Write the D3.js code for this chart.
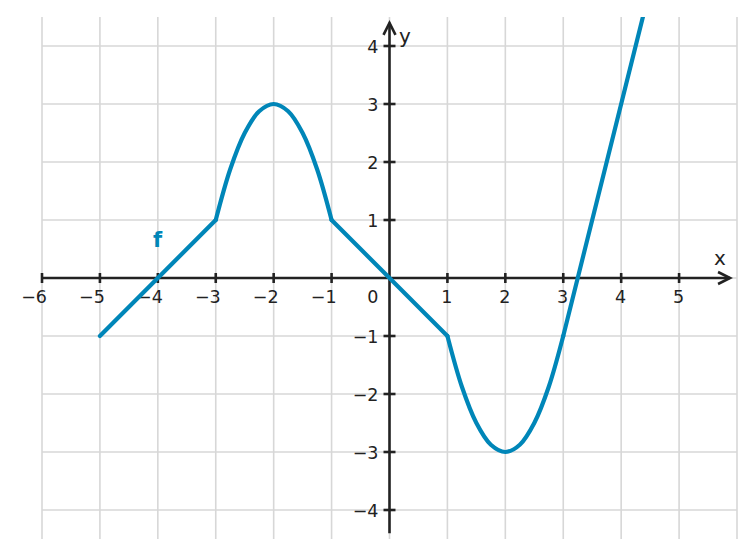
<!DOCTYPE html>
<html>
<head>
<meta charset="utf-8">
<script src="https://cdn.jsdelivr.net/npm/d3@7"></script>
<style>
  html, body { margin: 0; padding: 0; background: #fff; }
  svg { display: block; }
  text { font-family: "DejaVu Sans", sans-serif; }
</style>
</head>
<body>
<svg id="chart" width="755" height="557"></svg>
<script>
// ---- data ----
const xTicks = [-6, -5, -4, -3, -2, -1, 1, 2, 3, 4, 5];
const yTicks = [-4, -3, -2, -1, 1, 2, 3, 4];
const xGrid = [-6, -5, -4, -3, -2, -1, 0, 1, 2, 3, 4, 5, 6];
const yGrid = [-4, -3, -2, -1, 0, 1, 2, 3, 4];

// piece 1: straight line
const seg1X = [-5, -3];
const seg1Y = [-1, 1];
// piece 2: arc with maximum at (-2, 3)
const seg2X = [-3, -2.75, -2.5, -2.25, -2, -1.75, -1.5, -1.25, -1];
const seg2Y = [1, 1.875, 2.5, 2.875, 3, 2.875, 2.5, 1.875, 1];
// piece 3: straight line through origin
const seg3X = [-1, 1];
const seg3Y = [1, -1];
// piece 4: arc with minimum at (2, -3)
const seg4X = [1, 1.25, 1.5, 1.75, 2, 2.25, 2.5, 2.75, 3];
const seg4Y = [-1, -1.875, -2.5, -2.875, -3, -2.875, -2.5, -1.875, -1];
// piece 5: straight line rising steeply
const seg5X = [3, 4.5];
const seg5Y = [-1, 5];

const segments = [
  { x: seg1X, y: seg1Y, curved: false },
  { x: seg2X, y: seg2Y, curved: true },
  { x: seg3X, y: seg3Y, curved: false },
  { x: seg4X, y: seg4Y, curved: true },
  { x: seg5X, y: seg5Y, curved: false }
];

// ---- drawing ----
const svg = d3.select("#chart");
const x = d3.scaleLinear().domain([-6, 6]).range([42, 737]);
const y = d3.scaleLinear().domain([-4.5, 4.5]).range([539, 17]);

const gridColor = "#d7d7d7";
const axisColor = "#222222";
const curveColor = "#0086b8";

// grid
const grid = svg.append("g");
grid.selectAll("line.v").data(xGrid).enter().append("line")
  .attr("x1", d => x(d)).attr("x2", d => x(d))
  .attr("y1", y(4.5)).attr("y2", y(-4.5))
  .attr("stroke", gridColor).attr("stroke-width", 1.6);
grid.selectAll("line.h").data(yGrid).enter().append("line")
  .attr("y1", d => y(d)).attr("y2", d => y(d))
  .attr("x1", x(-6)).attr("x2", x(6))
  .attr("stroke", gridColor).attr("stroke-width", 1.6);

// clip for the curve
svg.append("defs").append("clipPath").attr("id", "plotclip")
  .append("rect")
  .attr("x", x(-6)).attr("y", y(4.5))
  .attr("width", x(6) - x(-6)).attr("height", y(-4.5) - y(4.5));

// axes
const axes = svg.append("g").attr("stroke", axisColor).attr("stroke-width", 2.6).attr("fill", "none");
const xAxisEnd = x(5.88);
const yAxisTop = y(4.4);
axes.append("line").attr("x1", x(-6)).attr("x2", xAxisEnd).attr("y1", y(0)).attr("y2", y(0));
axes.append("line").attr("x1", x(0)).attr("x2", x(0)).attr("y1", y(-4.4)).attr("y2", yAxisTop);
// arrowheads (open chevrons)
axes.append("path")
  .attr("d", `M${xAxisEnd - 12},${y(0) - 6} L${xAxisEnd},${y(0)} L${xAxisEnd - 12},${y(0) + 6}`)
  .attr("stroke-linejoin", "miter");
axes.append("path")
  .attr("d", `M${x(0) - 6},${yAxisTop + 12} L${x(0)},${yAxisTop} L${x(0) + 6},${yAxisTop + 12}`)
  .attr("stroke-linejoin", "miter");

// ticks
axes.selectAll("line.xt").data(xTicks).enter().append("line")
  .attr("x1", d => x(d)).attr("x2", d => x(d))
  .attr("y1", y(0) - 5).attr("y2", y(0) + 5);
axes.selectAll("line.yt").data(yTicks).enter().append("line")
  .attr("y1", d => y(d)).attr("y2", d => y(d))
  .attr("x1", x(0) - 6).attr("x2", x(0) + 6);

// tick labels
const fmt = v => (v < 0 ? "\u2212" : "") + Math.abs(v);
const labels = svg.append("g").attr("fill", "#222").attr("font-size", 17.5);
labels.selectAll("text.xl").data(xTicks).enter().append("text")
  .attr("x", d => x(d) + 5).attr("y", y(0) + 25)
  .attr("text-anchor", "end").text(fmt);
labels.selectAll("text.yl").data(yTicks).enter().append("text")
  .attr("x", x(0) - 11).attr("y", d => y(d) + 6.5)
  .attr("text-anchor", "end").text(fmt);
labels.append("text").attr("x", x(0) - 11).attr("y", y(0) + 25)
  .attr("text-anchor", "end").text("0");

// axis names
svg.append("text").attr("x", 714).attr("y", 265).attr("font-size", 20).attr("fill", "#222").text("x");
svg.append("text").attr("x", 399).attr("y", 43).attr("font-size", 20).attr("fill", "#222").text("y");

// function curve
const curveG = svg.append("g").attr("clip-path", "url(#plotclip)");
segments.forEach(s => {
  const pts = s.x.map((v, i) => [v, s.y[i]]);
  const line = d3.line()
    .x(d => x(d[0])).y(d => y(d[1]))
    .curve(s.curved ? d3.curveCatmullRom.alpha(0.5) : d3.curveLinear);
  curveG.append("path").attr("d", line(pts))
    .attr("fill", "none").attr("stroke", curveColor)
    .attr("stroke-width", 4.2).attr("stroke-linecap", "round").attr("stroke-linejoin", "round");
});

// function label
svg.append("text").attr("x", 153).attr("y", 247).attr("font-size", 21)
  .attr("font-weight", "bold").attr("fill", curveColor).text("f");
</script>
</body>
</html>
